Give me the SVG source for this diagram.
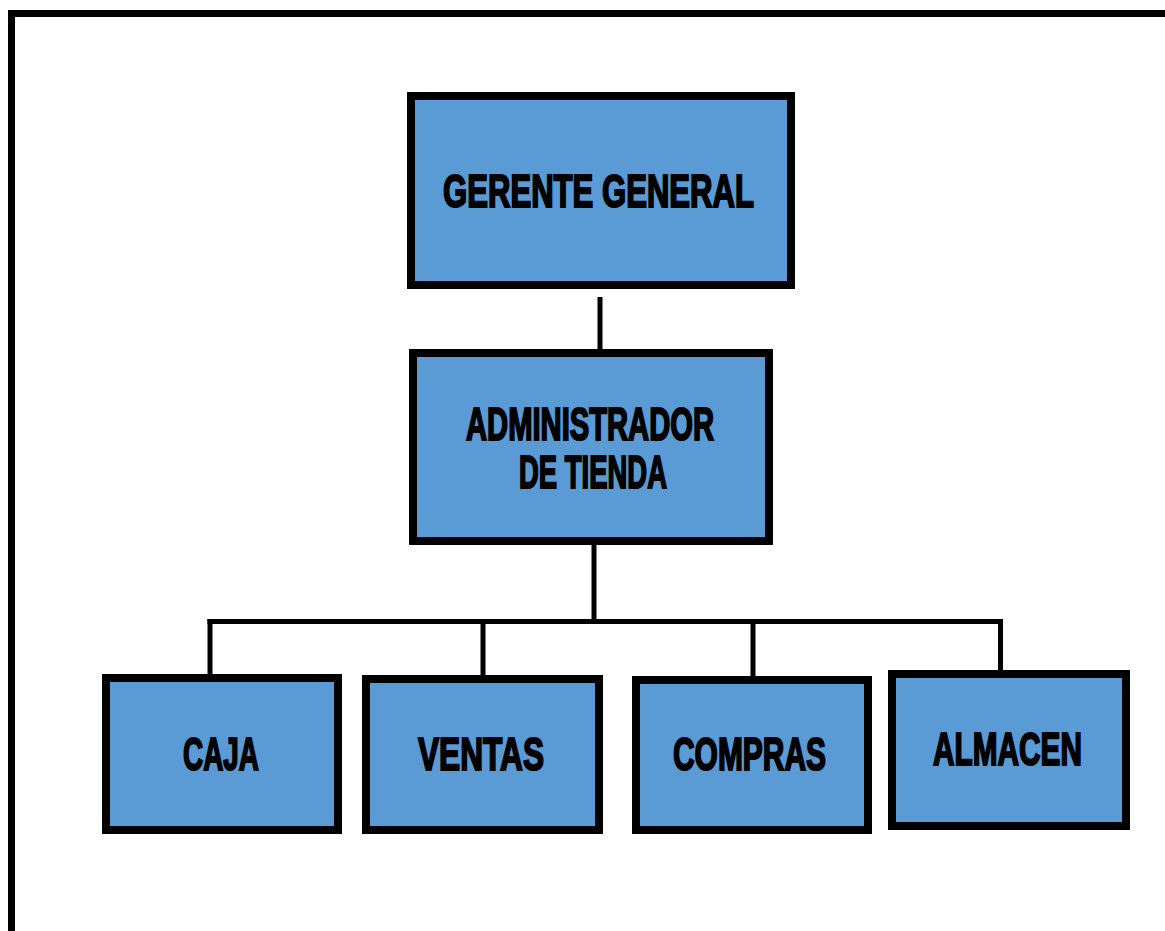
<svg xmlns="http://www.w3.org/2000/svg" width="1165" height="931" viewBox="0 0 1165 931">
<style>
.box{fill:#5b9bd5;stroke:#000;stroke-width:8}
.lbl{font-family:"Liberation Sans",Arial,sans-serif;font-weight:bold;font-size:46px;fill:#000;stroke:#000;stroke-width:2}
.con{fill:none;stroke:#000;stroke-width:5}
</style>
<rect width="1165" height="931" fill="#fff"/>
<path d="M11.5 931 V13.5 H1165" fill="none" stroke="#000" stroke-width="7"/>
<g id="connectors">
<path class="con" d="M600 297 V349"/>
<path class="con" d="M594 545 V621.5"/>
<path class="con" d="M207.5 621.5 H1001"/>
<path class="con" d="M210 619 V674"/>
<path class="con" d="M483 619 V675"/>
<path class="con" d="M753 619 V676"/>
<path class="con" d="M1000.5 619 V670"/>
</g>
<g id="gerente">
<rect class="box" x="411" y="96" width="380" height="189"/>
<text class="lbl" x="443" y="206.5" textLength="311" lengthAdjust="spacingAndGlyphs">GERENTE GENERAL</text>
</g>
<g id="administrador">
<rect class="box" x="413" y="353" width="356" height="188"/>
<text class="lbl" x="466" y="439.5" textLength="248" lengthAdjust="spacingAndGlyphs">ADMINISTRADOR</text>
<text class="lbl" x="519" y="487.5" textLength="148" lengthAdjust="spacingAndGlyphs">DE TIENDA</text>
</g>
<g id="caja">
<rect class="box" x="106" y="678" width="232" height="152"/>
<text class="lbl" x="183" y="769.5" textLength="76" lengthAdjust="spacingAndGlyphs">CAJA</text>
</g>
<g id="ventas">
<rect class="box" x="366" y="679" width="233" height="151"/>
<text class="lbl" x="418" y="769.5" textLength="126" lengthAdjust="spacingAndGlyphs">VENTAS</text>
</g>
<g id="compras">
<rect class="box" x="636" y="680" width="232" height="150"/>
<text class="lbl" x="673" y="769.5" textLength="153" lengthAdjust="spacingAndGlyphs">COMPRAS</text>
</g>
<g id="almacen">
<rect class="box" x="892" y="674" width="234" height="152"/>
<text class="lbl" x="933" y="764.5" textLength="149" lengthAdjust="spacingAndGlyphs">ALMACEN</text>
</g>
</svg>
